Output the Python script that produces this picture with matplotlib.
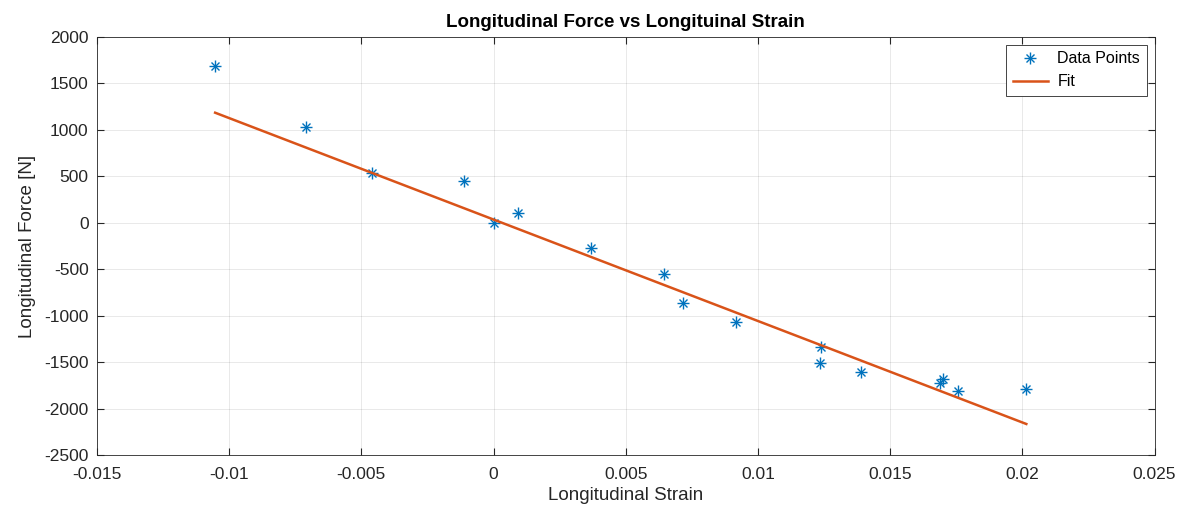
import numpy as np
import matplotlib.pyplot as plt
from matplotlib.legend_handler import HandlerTuple

plt.rcParams['font.family'] = ['Liberation Sans', 'DejaVu Sans']
plt.rcParams['axes.unicode_minus'] = False

# Data
strain = [-0.01053, -0.00710, -0.00460, -0.00112, 0.0, 0.00092, 0.00367,
          0.00645, 0.00715, 0.00917, 0.01236, 0.01239, 0.01388, 0.01687,
          0.01700, 0.01756, 0.02015]
force = [1688, 1036, 534, 452, 0, 111, -272, -548, -857, -1061, -1509,
         -1330, -1599, -1717, -1681, -1803, -1785]

# Fit coefficients (slope, intercept)
fit_coef = [-109100, 37]
x_fit = np.array([min(strain), max(strain)])
y_fit = np.polyval(fit_coef, x_fit)

fig = plt.figure(figsize=(11.91, 5.18), dpi=100)
ax = fig.add_axes([0.0814, 0.1207, 0.8880, 0.8079])

# MATLAB-style asterisk = plus + cross
h1, = ax.plot(strain, force, '+', color='#0072BD', markersize=8, markeredgewidth=1.0)
h2, = ax.plot(strain, force, 'x', color='#0072BD', markersize=6, markeredgewidth=1.0)
h3, = ax.plot(x_fit, y_fit, '-', color='#D95319', linewidth=1.8)

ax.set_xlim(-0.015, 0.025)
ax.set_ylim(-2500, 2000)
ax.set_xticks(np.arange(-0.015, 0.0251, 0.005))
ax.set_xticklabels(['-0.015', '-0.01', '-0.005', '0', '0.005', '0.01', '0.015', '0.02', '0.025'])
ax.set_yticks(np.arange(-2500, 2001, 500))
ax.tick_params(direction='in', top=True, right=True, labelsize=12.5, length=5, colors='#262626')
ax.tick_params(axis='x', pad=8)
ax.tick_params(axis='y', pad=6)
ax.grid(True, color='#000000', alpha=0.1, linewidth=0.6)
for s in ax.spines.values():
    s.set_color('#262626')
    s.set_linewidth(0.6)

ax.set_xlabel('Longitudinal Strain', fontsize=13.5, color='#262626', labelpad=4)
ax.set_ylabel('Longitudinal Force [N]', fontsize=13.5, color='#262626', labelpad=6)
ax.set_title('Longitudinal Force vs Longituinal Strain', fontsize=13.5, fontweight='bold', pad=7)

leg = ax.legend([(h1, h2), h3], ['Data Points', 'Fit'], loc='upper right', fontsize=11.5,
                fancybox=False, framealpha=1, edgecolor='#262626', borderaxespad=0.5,
                handlelength=2.2, handletextpad=0.6,
                handler_map={tuple: HandlerTuple(ndivide=1)})
leg.get_frame().set_linewidth(0.6)

plt.savefig('out.png', dpi=100)
